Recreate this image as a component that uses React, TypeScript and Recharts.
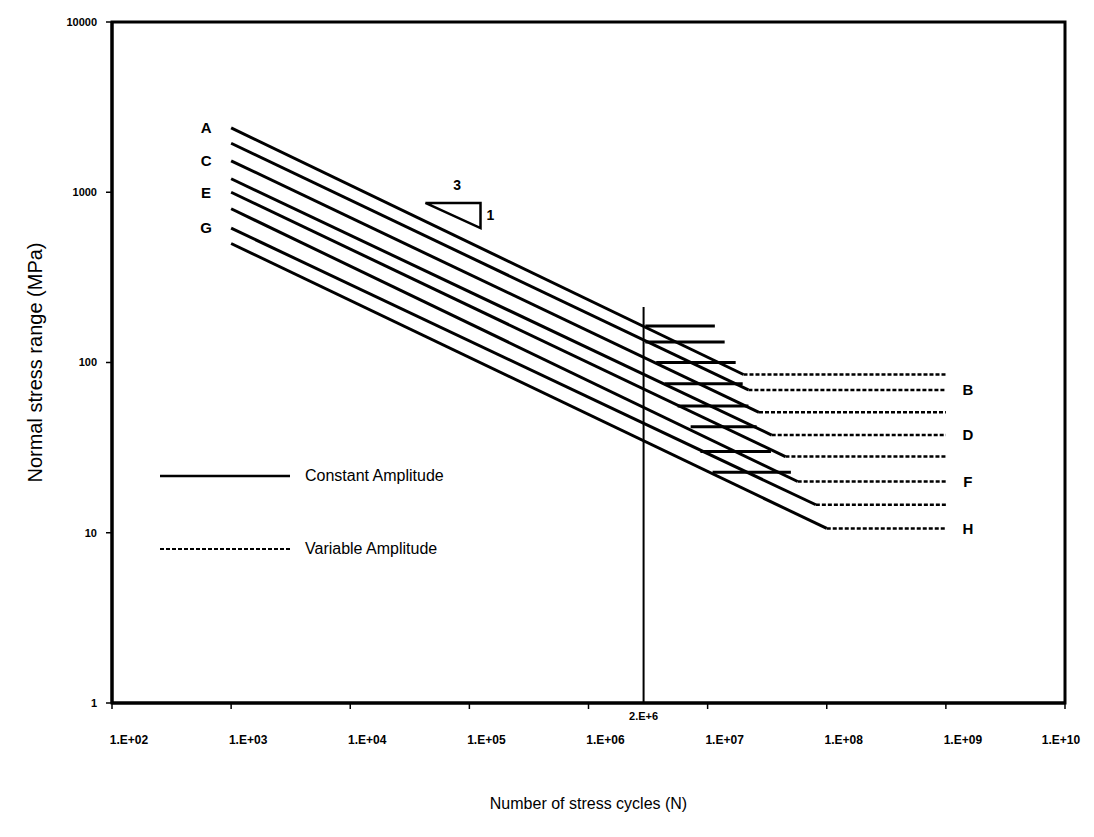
import React from 'react';
import {
  LineChart, Line, XAxis, YAxis, ReferenceLine, ReferenceArea, ReferenceDot,
} from 'recharts';

const FONT = '"Liberation Sans", Arial, sans-serif';

// axis ticks
const xTicks = [1e2, 1e3, 1e4, 1e5, 1e6, 1e7, 1e8, 1e9, 1e10];
const xTickLabels = ['1.E+02', '1.E+03', '1.E+04', '1.E+05', '1.E+06', '1.E+07', '1.E+08', '1.E+09', '1.E+10'];
const yTicks = [1, 10, 100, 1000, 10000];
const yTickLabels = ['1', '10', '100', '1000', '10000'];

// detail categories, top curve first
const leftLabels = ['A', '', 'C', '', 'E', '', 'G', ''];
const rightLabels = ['', 'B', '', 'D', '', 'F', '', 'H'];
const startCycles = 1e3;
const startStress = [2390, 1940, 1530, 1200, 1000, 800, 615, 500];
const kneeCycles = [2.0e7, 2.2e7, 2.7e7, 3.45e7, 4.5e7, 5.7e7, 8.1e7, 1.0e8];
const kneeStress = [85, 69, 51, 37.5, 28, 20, 14.6, 10.6];
const endCycles = 1e9;

// constant amplitude thresholds (solid stubs)
const caflStress = [164, 132, 100, 75, 55.5, 42, 30, 22.7];
const caflStart = [3.0e6, 3.0e6, 3.7e6, 4.35e6, 5.6e6, 7.2e6, 8.7e6, 1.1e7];
const caflEnd = [1.15e7, 1.39e7, 1.72e7, 1.97e7, 2.2e7, 2.58e7, 3.4e7, 5.0e7];

// 2E+6 marker line (drawn where the picture shows it)
const markerCycles = 2.9e6;
const markerTop = 212;
const markerLabel = '2.E+6';

// slope triangle 3:1
const triangle = [
  { n: 4.27e4, s: 865 },
  { n: 1.24e5, s: 865 },
  { n: 1.24e5, s: 616 },
  { n: 4.27e4, s: 865 },
];

const legendItems = [
  { name: 'Constant Amplitude', dash: undefined },
  { name: 'Variable Amplitude', dash: '4 2' },
];

const XTick = (props: any) => {
  const { x, y, payload } = props;
  const i = xTicks.indexOf(payload.value);
  return (
    <text x={x + 17} y={y} dy="0.71em" textAnchor="middle" fontSize={12} fontWeight="bold"
      fontFamily={FONT} fill="#000">
      {xTickLabels[i]}
    </text>
  );
};

const letterLabel = (letter: string, side: 'left' | 'right') => (p: any) => {
  const isFirst = p.index === 0;
  if (!letter || (side === 'left' && !isFirst) || (side === 'right' && isFirst)) return <g />;
  return (
    <text x={side === 'left' ? p.x - 25 : p.x + 22} y={p.y} dy="0.35em" textAnchor="middle"
      fontSize={15} fontWeight="bold" fontFamily={FONT} fill="#000">
      {letter}
    </text>
  );
};

// legend drawn as an overlay so it takes no room from the plot
const LegendBox = () => (
  <div style={{ position: 'absolute', left: 152, top: 458, fontFamily: FONT, fontSize: 16 }}>
    {legendItems.map((it, i) => (
      <div key={it.name} style={{ display: 'flex', alignItems: 'center', height: 20, marginBottom: i === 0 ? 53 : 0 }}>
        <svg width={130} height={6} style={{ marginRight: 15 }}>
          <line x1={0} y1={3} x2={130} y2={3} stroke="#000" strokeWidth={it.dash ? 2 : 2.5} strokeDasharray={it.dash} />
        </svg>
        <span>{it.name}</span>
      </div>
    ))}
  </div>
);

export default function App() {
  return (
    <div style={{ position: 'relative', width: 1080, height: 825, background: '#fff' }}>
      <LineChart width={1080} height={825} margin={{ top: 14, right: 23, bottom: 20, left: 14 }}>
        <XAxis
          dataKey="n"
          type="number"
          scale="log"
          domain={[1e2, 1e10]}
          ticks={xTicks}
          allowDataOverflow
          height={110}
          axisLine={{ stroke: '#000', strokeWidth: 3 }}
          tickLine={{ stroke: '#000', strokeWidth: 1.5 }}
          tickSize={6}
          tickMargin={26}
          tick={<XTick />}
          label={{ value: 'Number of stress cycles (N)', position: 'insideBottom', offset: 4, fill: '#000', fontSize: 16, fontFamily: FONT }}
        />
        <YAxis
          type="number"
          scale="log"
          domain={[1, 10000]}
          ticks={yTicks}
          allowDataOverflow
          width={90}
          axisLine={{ stroke: '#000', strokeWidth: 3 }}
          tickLine={{ stroke: '#000', strokeWidth: 1.5 }}
          tickSize={6}
          tickMargin={9}
          tickFormatter={(v: number) => yTickLabels[yTicks.indexOf(v)]}
          tick={{ fill: '#000', fontSize: 11, fontWeight: 'bold', fontFamily: FONT }}
          label={{ value: 'Normal stress range (MPa)', angle: -90, position: 'insideLeft', offset: 13, fill: '#000', fontSize: 20, fontFamily: FONT, style: { textAnchor: 'middle' } }}
        />
        <ReferenceArea x1={1e2} x2={1e10} y1={1} y2={10000} fill="none" stroke="#000" strokeWidth={3} ifOverflow="visible" />
        <ReferenceLine
          segment={[{ x: markerCycles, y: 1 }, { x: markerCycles, y: markerTop }]}
          stroke="#000"
          strokeWidth={2}
          label={{ value: markerLabel, position: 'bottom', offset: 9, fill: '#000', fontSize: 11, fontWeight: 'bold', fontFamily: FONT }}
        />
        {startStress.map((s0, i) => (
          <Line
            key={`slope-${i}`}
            data={[{ n: startCycles, s: s0 }, { n: kneeCycles[i], s: kneeStress[i] }]}
            dataKey="s"
            stroke="#000"
            strokeWidth={3}
            dot={false}
            isAnimationActive={false}
            label={letterLabel(leftLabels[i], 'left')}
          />
        ))}
        {kneeStress.map((s, i) => (
          <Line
            key={`flat-${i}`}
            data={[{ n: kneeCycles[i], s }, { n: endCycles, s }]}
            dataKey="s"
            stroke="#000"
            strokeWidth={2.5}
            strokeDasharray="4 2"
            dot={false}
            isAnimationActive={false}
            label={letterLabel(rightLabels[i], 'right')}
          />
        ))}
        {caflStress.map((s, i) => (
          <Line
            key={`cafl-${i}`}
            data={[{ n: caflStart[i], s }, { n: caflEnd[i], s }]}
            dataKey="s"
            stroke="#000"
            strokeWidth={3}
            dot={false}
            isAnimationActive={false}
          />
        ))}
        <Line data={triangle} dataKey="s" stroke="#000" strokeWidth={2.5} dot={false} isAnimationActive={false} />
        <ReferenceDot x={7.9e4} y={1103} r={0} fill="none" stroke="none"
          label={{ value: '3', position: 'center', fill: '#000', fontSize: 14, fontWeight: 'bold', fontFamily: FONT }} />
        <ReferenceDot x={1.5e5} y={735} r={0} fill="none" stroke="none"
          label={{ value: '1', position: 'center', fill: '#000', fontSize: 14, fontWeight: 'bold', fontFamily: FONT }} />
      </LineChart>
      <LegendBox />
    </div>
  );
}
